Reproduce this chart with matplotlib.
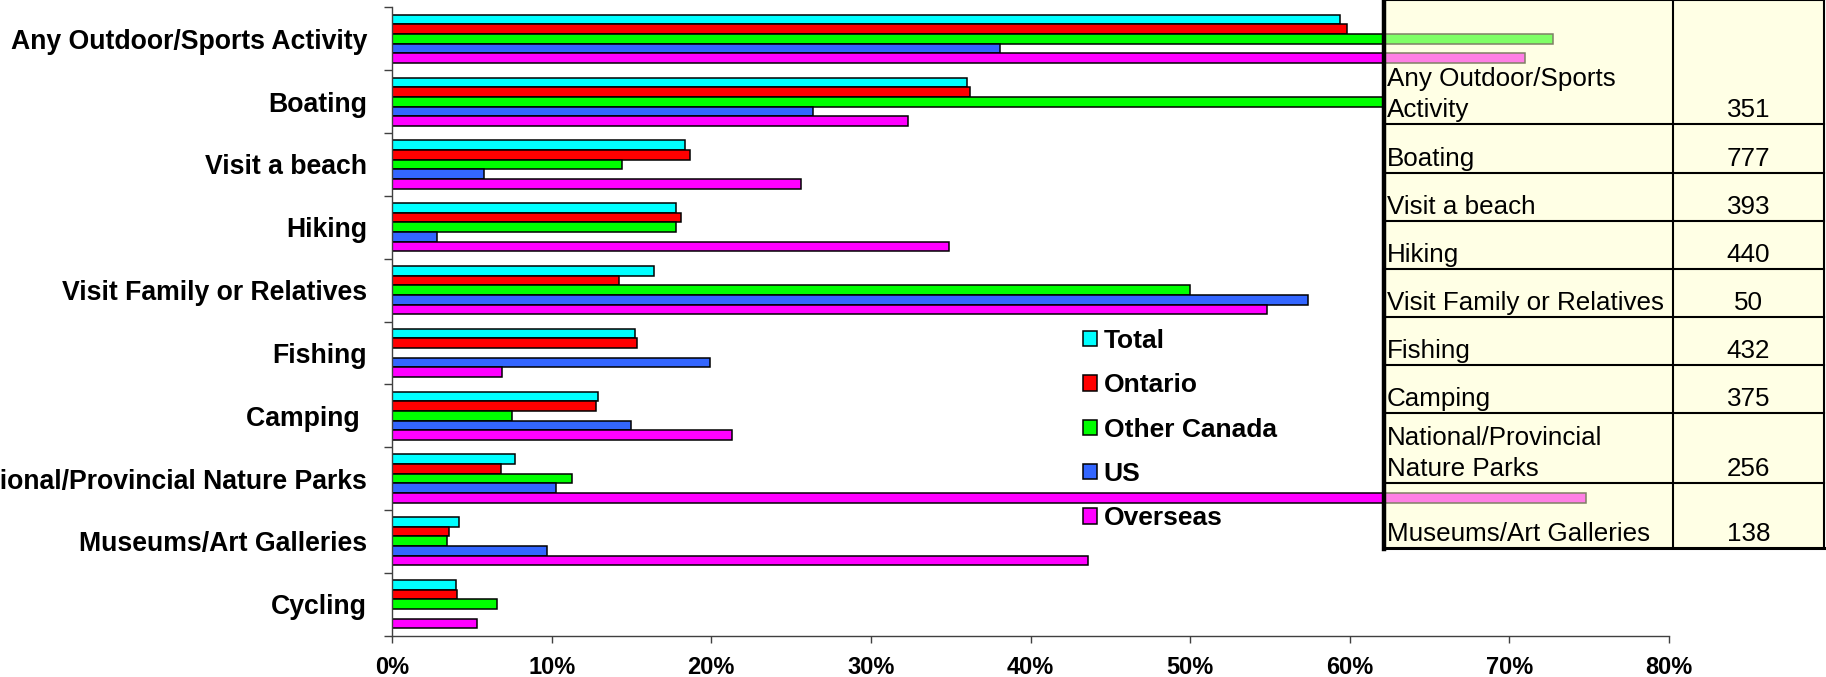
import matplotlib
matplotlib.use("Agg")
import matplotlib.pyplot as plt
import numpy as np
from matplotlib.patches import Patch, Rectangle

plt.rcParams['font.family'] = ['Liberation Sans', 'DejaVu Sans']

categories = ["Any Outdoor/Sports Activity", "Boating", "Visit a beach", "Hiking",
              "Visit Family or Relatives", "Fishing", "Camping ",
              "National/Provincial Nature Parks", "Museums/Art Galleries", "Cycling"]
series = ["Total", "Ontario", "Other Canada", "US", "Overseas"]
total = [59.4, 36.0, 18.35, 17.8, 16.4, 15.2, 12.9, 7.7, 4.2, 4.0]
ontario = [59.8, 36.2, 18.7, 18.1, 14.25, 15.35, 12.8, 6.8, 3.6, 4.07]
other_canada = [72.75, 62.2, 14.4, 17.8, 50.0, 0, 7.5, 11.3, 3.43, 6.6]
us = [38.1, 26.4, 5.76, 2.8, 57.4, 19.9, 15.0, 10.3, 9.7, 0]
overseas = [71.0, 32.35, 25.6, 34.9, 54.8, 6.9, 21.3, 74.8, 43.6, 5.3]
colors = ["#00FFFF", "#FF0000", "#00FF00", "#3366FF", "#FF00FF"]
xticks = [0, 10, 20, 30, 40, 50, 60, 70, 80]

table_labels = ["Any Outdoor/Sports\nActivity", "Boating", "Visit a beach", "Hiking",
                "Visit Family or Relatives", "Fishing", "Camping",
                "National/Provincial\nNature Parks", "Museums/Art Galleries"]
table_counts = [351, 777, 393, 440, 50, 432, 375, 256, 138]

W, H = 1826, 677
fig = plt.figure(figsize=(W / 100, H / 100), dpi=100)
fig.patch.set_facecolor('white')

# main bar chart
ax = fig.add_axes([392 / W, (H - 635.5) / H, (1669 - 392) / W, 628 / H])
values = [total, ontario, other_canada, us, overseas]
h = 0.154
y = np.arange(len(categories))
for j, (vals, name, c) in enumerate(zip(values, series, colors)):
    ax.barh(y + (j - 2) * h, vals, height=h, color=c, edgecolor='black',
            linewidth=1.1, label=name, zorder=2)

ax.set_xlim(0, 80)
ax.set_ylim(9.5, -0.5)
ax.set_xticks(xticks)
ax.set_xticklabels([f"{t}%" for t in xticks], fontsize=17, fontweight='bold')
ax.tick_params(axis='x', length=5, width=1, pad=10, color='#404040')
ax.set_yticks(np.arange(-0.5, 10, 1))
ax.set_yticklabels([])
ax.set_yticks(y, minor=True)
ax.set_yticklabels(categories, minor=True, fontsize=19.2, fontweight='bold')
ax.tick_params(axis='y', which='major', length=6, width=1, color='#404040')
ax.tick_params(axis='y', which='minor', length=0, pad=18)
for s in ['top', 'right']:
    ax.spines[s].set_visible(False)
for s in ['left', 'bottom']:
    ax.spines[s].set_color('#404040')
    ax.spines[s].set_linewidth(1)

handles = [Patch(facecolor=c, edgecolor='black', linewidth=1.1) for c in colors]
ax.legend(handles, series, loc='upper left', bbox_to_anchor=(1083 / W, 1 - 329 / H),
          bbox_transform=fig.transFigure, frameon=False, borderpad=0, borderaxespad=0,
          handlelength=0.53, handleheight=0.53, handletextpad=0.25, labelspacing=0.77,
          prop={'size': 19, 'weight': 'bold'})

# sample size table over the right side
ax_t = fig.add_axes([0, 0, 1, 1])
ax_t.set_xlim(0, W)
ax_t.set_ylim(H, 0)
ax_t.axis('off')
x0, x1, x2 = 1384, 1672.7, 1824
rows = [0, 124.3, 172.7, 220.7, 268.7, 316.7, 365, 412.7, 483.3, 548]
ax_t.add_patch(Rectangle((x0, 0), x2 - x0, rows[-1], facecolor=(1, 1, 0.8),
                         alpha=0.5, edgecolor='none'))
for yy in rows[:-1]:
    ax_t.plot([x0, x2], [yy, yy], color='black', lw=1.5)
ax_t.plot([x0, x2], [rows[-1], rows[-1]], color='black', lw=2.2)
ax_t.plot([x1, x1], [0, rows[-1]], color='black', lw=1.5)
ax_t.plot([x2, x2], [0, rows[-1]], color='black', lw=1.5)
ax_t.plot([x0, x0], [0, rows[-1] + 1], color='black', lw=3.2)

for i, (lab, cnt) in enumerate(zip(table_labels, table_counts)):
    base = rows[i + 1] - 7
    for k, line in enumerate(reversed(lab.split('\n'))):
        ax_t.text(x0 + 3, base - k * 31, line, fontsize=18.7, ha='left', va='baseline')
    ax_t.text((x1 + x2) / 2, base, str(cnt), fontsize=18.7, ha='center', va='baseline')

fig.savefig('out.png', dpi=100)
